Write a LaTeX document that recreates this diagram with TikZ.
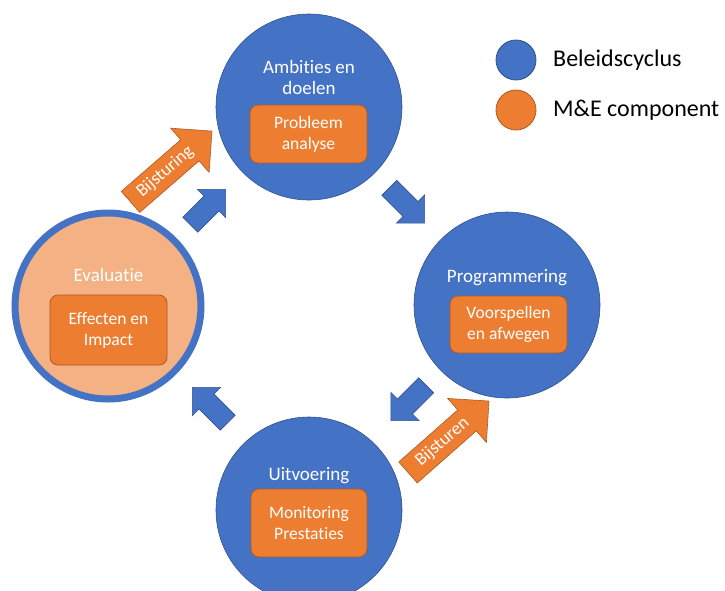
\documentclass[tikz,border=0pt]{standalone}
\usepackage{fontspec}
\setmainfont{Carlito}[RawFeature={-liga,-clig,-dlig}]
\definecolor{cblue}{HTML}{4472C4}
\definecolor{cblueD}{HTML}{2F528F}
\definecolor{corange}{HTML}{ED7D31}
\definecolor{corangeD}{HTML}{AE5A21}
\definecolor{corangeL}{HTML}{F4B183}
\tikzset{
  bluecirc/.style={circle, fill=cblue, draw=cblueD, line width=0.6pt, minimum size=186pt, inner sep=0pt},
  evalcirc/.style={circle, fill=corangeL, draw=cblue, line width=7pt, minimum size=186pt, inner sep=0pt},
  mebox/.style={rectangle, rounded corners=8pt, fill=corange, draw=corangeD, line width=0.8pt,
    text=white, font=\fontsize{17.5}{21}\selectfont, align=center, inner sep=0pt},
  title/.style={text=white, font=\fontsize{19}{21}\selectfont, align=center, inner sep=0pt},
  legtext/.style={text=black, font=\fontsize{24}{28}\selectfont, inner sep=0pt, anchor=base west},
  bluearrow/.style={fill=cblue, draw=cblueD, line width=0.6pt},
  orangearrow/.style={fill=corange, draw=corangeD, line width=0.6pt},
  arrowlabel/.style={text=white, font=\fontsize{18}{20}\selectfont, inner sep=0pt},
  smallarrow/.pic={\path[pic actions] (-25,-10.5) -- (5,-10.5) -- (5,-20) -- (25,0) -- (5,20) -- (5,10.5) -- (-25,10.5) -- cycle;},
  bigarrow/.pic={\path[pic actions] (-54,-14) -- (24.7,-14) -- (24.7,-29.3) -- (54,0) -- (24.7,29.3) -- (24.7,14) -- (-54,14) -- cycle;}
}
\begin{document}
\begin{tikzpicture}[x=1pt,y=-1pt]
\useasboundingbox (0,0) rectangle (725,590);
\clip (0,0) rectangle (725,590);

% circles
\node[bluecirc] (top) at (309,107) {};
\node[bluecirc] (right) at (507,305) {};
\node[bluecirc] (bottom) at (309,510) {};
\node[evalcirc] (left) at (108,306) {};

% titles
\node[title] (ttop) at (309,77.5) {Ambities en\\doelen};
\node[title, anchor=base] (tright) at (507,282) {Programmering};
\node[title, anchor=base] (tbottom) at (309,480.5) {Uitvoering};
\node[title, anchor=base] (tleft) at (108.5,281.5) {Evaluatie};

% M&E boxes
\node[mebox, minimum width=117pt, minimum height=58pt] (btop) at (308.5,134) {Probleem\\analyse};
\node[mebox, minimum width=117pt, minimum height=57pt] (bright) at (508.5,324.5) {Voorspellen\\en afwegen};
\node[mebox, minimum width=116pt, minimum height=68pt] (bbottom) at (309,523) {Monitoring\\Prestaties};
\node[mebox, minimum width=117pt, minimum height=70pt] (bleft) at (108.5,330) {Effecten en\\Impact};

% blue cycle arrows
\pic[bluearrow, rotate=-45] at (407,205.5) {smallarrow};
\pic[bluearrow, rotate=-135] at (408.5,403) {smallarrow};
\pic[bluearrow, rotate=135] at (210,405) {smallarrow};
\pic[bluearrow, rotate=45] at (208,207) {smallarrow};

% orange steering arrows
\pic[orangearrow, rotate=41] at (171.25,166.5) {bigarrow};
\node[arrowlabel, rotate=41] (l1) at (165.2,171.8) {Bijsturing};
\pic[orangearrow, rotate=41.4] at (448.5,436.75) {bigarrow};
\node[arrowlabel, rotate=41.4] (l2) at (442.5,442) {Bijsturen};

% legend
\node[circle, fill=cblue, draw=cblueD, line width=0.8pt, minimum size=40pt, inner sep=0pt] (lb) at (516,60) {};
\node[circle, fill=corange, draw=corangeD, line width=0.8pt, minimum size=40pt, inner sep=0pt] (lo) at (516,110) {};
\node[legtext] (lbt) at (553,66) {Beleidscyclus};
\node[legtext] (lot) at (553,116) {M\&E component};
\end{tikzpicture}
\end{document}
